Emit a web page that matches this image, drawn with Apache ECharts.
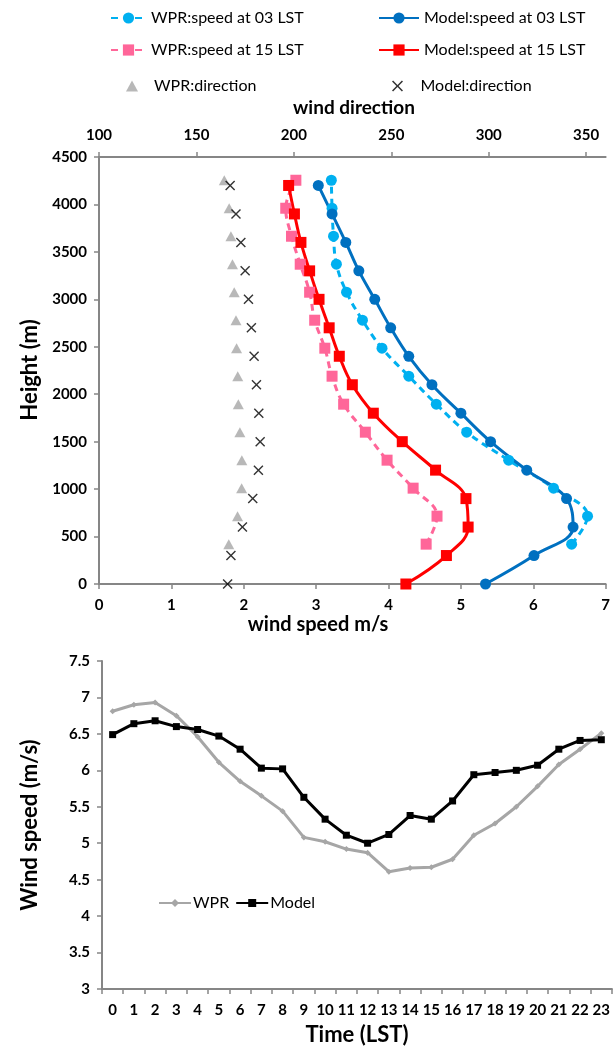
<!DOCTYPE html>
<html>
<head>
<meta charset="utf-8">
<script src="https://cdn.jsdelivr.net/npm/echarts@6/dist/echarts.min.js"></script>
<style>
  html, body { margin: 0; padding: 0; background: #fff; }
  #chart { width: 613px; height: 1056px; }
</style>
</head>
<body>
<div id="chart"></div>
<script>
// Vertical profiles (upper panel)
const modelHeights = [0, 300, 600, 900, 1200, 1500, 1800, 2100, 2400, 2700, 3000, 3300, 3600, 3900, 4200];
const modelSpeed03 = [5.34, 6.01, 6.55, 6.46, 5.91, 5.41, 5.00, 4.60, 4.28, 4.03, 3.81, 3.59, 3.41, 3.22, 3.03];
const modelSpeed15 = [4.24, 4.80, 5.10, 5.07, 4.65, 4.19, 3.79, 3.50, 3.32, 3.18, 3.04, 2.91, 2.79, 2.70, 2.62];
const modelDirection = [166.0, 167.7, 173.6, 178.9, 181.8, 182.7, 182.0, 180.8, 179.6, 178.2, 176.7, 175.0, 172.8, 170.3, 167.3];

const wprHeights = [420, 715, 1010, 1305, 1600, 1895, 2190, 2485, 2780, 3075, 3370, 3665, 3960, 4255];
const wprSpeed03 = [6.53, 6.75, 6.28, 5.66, 5.08, 4.66, 4.28, 3.91, 3.64, 3.42, 3.28, 3.24, 3.22, 3.21];
const wprSpeed15 = [4.52, 4.67, 4.34, 3.98, 3.68, 3.38, 3.22, 3.12, 2.98, 2.91, 2.78, 2.66, 2.58, 2.72];
const wprDirection = [166.6, 171.1, 173.2, 173.3, 172.3, 171.5, 171.2, 170.6, 170.3, 169.4, 168.5, 167.7, 166.8, 164.3];

// Diurnal cycle of wind speed (lower panel)
const hours = ['0','1','2','3','4','5','6','7','8','9','10','11','12','13','14','15','16','17','18','19','20','21','22','23'];
const wprHourly = [6.81, 6.90, 6.93, 6.75, 6.46, 6.11, 5.85, 5.65, 5.44, 5.08, 5.02, 4.92, 4.87, 4.61, 4.66, 4.67, 4.78, 5.11, 5.27, 5.50, 5.78, 6.08, 6.29, 6.51];
const modelHourly = [6.49, 6.64, 6.68, 6.60, 6.56, 6.47, 6.29, 6.03, 6.02, 5.63, 5.33, 5.11, 5.00, 5.12, 5.38, 5.33, 5.58, 5.94, 5.97, 6.00, 6.07, 6.29, 6.41, 6.42];

const pair = (xs, ys) => xs.map((x, i) => [x, ys[i]]);

const FONT = 'Lato, "Open Sans", sans-serif';
const AXIS_GRAY = '#868686';
const CROSS = 'path://M0,1L1,0L5,4L9,0L10,1L6,5L10,9L9,10L5,6L1,10L0,9L4,5Z';

const tickLabel = { color: '#000', fontFamily: FONT, fontWeight: 'bold', fontSize: 15 };
const axisLine = { show: true, lineStyle: { color: AXIS_GRAY, width: 2 } };
const axisTick = { show: true, length: 5, lineStyle: { color: AXIS_GRAY, width: 1.5 } };
const legendText = { fontFamily: FONT, fontSize: 16, color: '#000' };

const chart = echarts.init(document.getElementById('chart'), null, { renderer: 'canvas' });

const title = (text, x, y, size, rot) => ({
  type: 'text', x: x, y: y, rotation: rot || 0,
  style: { text: text, font: 'bold ' + size + 'px ' + FONT, fill: '#000', align: 'center', verticalAlign: 'middle' }
});

chart.setOption({
  animation: false,
  backgroundColor: '#fff',
  grid: [
    { left: 99, right: 4, top: 157, height: 427 },
    { left: 102, right: 0, top: 661, height: 328 }
  ],
  legend: [
    {
      orient: 'vertical', left: 105, top: 5, itemWidth: 35, itemHeight: 14, itemGap: 16,
      textStyle: legendText,
      data: ['WPR:speed at 03 LST', 'WPR:speed at 15 LST']
    },
    {
      left: 121, top: 73, itemWidth: 12, itemHeight: 11,
      textStyle: Object.assign({ padding: [0, 0, 0, 11] }, legendText),
      data: ['WPR:direction']
    },
    {
      orient: 'vertical', left: 373, top: 5, itemWidth: 40, itemHeight: 14, itemGap: 16,
      textStyle: legendText,
      data: ['Model:speed at 03 LST', 'Model:speed at 15 LST']
    },
    {
      left: 387, top: 73, itemWidth: 12, itemHeight: 11,
      textStyle: Object.assign({ padding: [0, 0, 0, 12] }, legendText),
      data: ['Model:direction']
    },
    {
      orient: 'horizontal', left: 153, top: 890, itemWidth: 32, itemHeight: 10, itemGap: 6,
      textStyle: { fontFamily: FONT, fontSize: 16, color: '#000', padding: [0, 0, 0, -3] },
      data: ['WPR', 'Model']
    }
  ],
  xAxis: [
    {
      gridIndex: 0, type: 'value', position: 'bottom', min: 0, max: 7, interval: 1,
      axisLine: axisLine, axisTick: axisTick, splitLine: { show: false },
      axisLabel: Object.assign({ margin: 14 }, tickLabel)
    },
    {
      gridIndex: 0, type: 'value', position: 'top', min: 100, max: 360, interval: 50,
      axisLine: axisLine, axisTick: axisTick, splitLine: { show: false },
      axisLabel: Object.assign({ margin: 14, showMaxLabel: false }, tickLabel)
    },
    {
      gridIndex: 1, type: 'category', data: hours, boundaryGap: true,
      axisLine: axisLine, axisTick: Object.assign({ alignWithLabel: false, interval: 0 }, axisTick),
      axisLabel: Object.assign({ margin: 14, interval: 0 }, tickLabel)
    }
  ],
  yAxis: [
    {
      gridIndex: 0, type: 'value', min: 0, max: 4500, interval: 500,
      axisLine: axisLine, axisTick: axisTick, splitLine: { show: false },
      axisLabel: Object.assign({ margin: 12, formatter: v => String(v) }, tickLabel)
    },
    {
      gridIndex: 1, type: 'value', min: 3, max: 7.5, interval: 0.5,
      axisLine: axisLine, axisTick: axisTick, splitLine: { show: false },
      axisLabel: Object.assign({ margin: 12 }, tickLabel)
    }
  ],
  graphic: [
    title('wind direction', 354, 108, 19),
    title('Height (m)', 30, 370, 22, Math.PI / 2),
    title('wind speed m/s', 318, 625, 20),
    title('Wind speed (m/s)', 30, 825, 22, Math.PI / 2),
    title('Time (LST)', 357, 1035, 22)
  ],
  series: [
    {
      name: 'WPR:speed at 03 LST', type: 'line', xAxisIndex: 0, yAxisIndex: 0,
      data: pair(wprSpeed03, wprHeights), smooth: 0.4,
      symbol: 'circle', symbolSize: 11,
      lineStyle: { color: '#00b0f0', width: 3, type: [7, 5] },
      itemStyle: { color: '#00b0f0' }
    },
    {
      name: 'Model:speed at 03 LST', type: 'line', xAxisIndex: 0, yAxisIndex: 0,
      data: pair(modelSpeed03, modelHeights), smooth: 0.4,
      symbol: 'circle', symbolSize: 11,
      lineStyle: { color: '#0070c0', width: 3 },
      itemStyle: { color: '#0070c0' }
    },
    {
      name: 'WPR:speed at 15 LST', type: 'line', xAxisIndex: 0, yAxisIndex: 0,
      data: pair(wprSpeed15, wprHeights), smooth: 0.4,
      symbol: 'rect', symbolSize: 11,
      lineStyle: { color: '#ff6699', width: 3, type: [7, 5] },
      itemStyle: { color: '#ff6699' }
    },
    {
      name: 'Model:speed at 15 LST', type: 'line', xAxisIndex: 0, yAxisIndex: 0,
      data: pair(modelSpeed15, modelHeights), smooth: 0.4,
      symbol: 'rect', symbolSize: 11,
      lineStyle: { color: '#ff0000', width: 3 },
      itemStyle: { color: '#ff0000' }
    },
    {
      name: 'WPR:direction', type: 'scatter', xAxisIndex: 1, yAxisIndex: 0,
      data: pair(wprDirection, wprHeights),
      symbol: 'triangle', symbolSize: [11, 10],
      itemStyle: { color: '#a6a6a6' }
    },
    {
      name: 'Model:direction', type: 'scatter', xAxisIndex: 1, yAxisIndex: 0,
      data: pair(modelDirection, modelHeights),
      symbol: CROSS, symbolSize: 10,
      itemStyle: { color: '#000' }
    },
    {
      name: 'WPR', type: 'line', xAxisIndex: 2, yAxisIndex: 1,
      data: wprHourly, symbol: 'diamond', symbolSize: 6,
      lineStyle: { color: '#a6a6a6', width: 3 },
      itemStyle: { color: '#a6a6a6' }
    },
    {
      name: 'Model', type: 'line', xAxisIndex: 2, yAxisIndex: 1,
      data: modelHourly, symbol: 'rect', symbolSize: 7,
      lineStyle: { color: '#000', width: 3 },
      itemStyle: { color: '#000' }
    }
  ]
});
</script>
</body>
</html>
